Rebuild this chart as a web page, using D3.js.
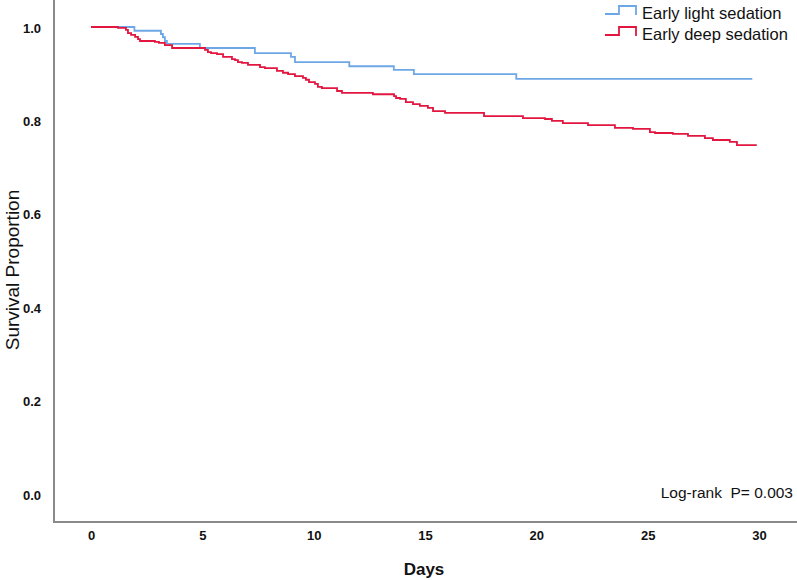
<!DOCTYPE html>
<html>
<head>
<meta charset="utf-8">
<script src="https://cdn.jsdelivr.net/npm/d3@7"></script>
<style>
  html, body { margin: 0; padding: 0; background: #fff; }
  svg { display: block; font-family: Arial, "Liberation Sans", sans-serif; }
</style>
</head>
<body>
<svg id="chart" width="797" height="580"></svg>
<script>
// ---- data ----
const seriesNames = ["Early light sedation", "Early deep sedation"];
const seriesColors = ["#6ea7e6", "#e2163f"];
const xTicks = [0, 5, 10, 15, 20, 25, 30];
const yTicks = [0.0, 0.2, 0.4, 0.6, 0.8, 1.0];

const lightTimes = [0, 1.95, 3.14, 3.23, 3.32, 3.41, 4.89, 7.36, 8.98, 9.16, 11.6, 13.6, 14.5, 19.1, 29.7];
const lightSurv  = [1.0, 0.992, 0.985, 0.978, 0.970, 0.964, 0.955, 0.944, 0.936, 0.925, 0.916, 0.908, 0.899, 0.889, 0.889];

const deepTimes = [0, 1.21, 1.57, 1.66, 1.80, 1.98, 2.11, 2.20, 2.87, 3.05, 3.32, 3.64, 5.12, 5.25, 5.39, 5.66, 5.93,
  6.33, 6.47, 6.60, 6.78, 7.05, 7.59, 7.81, 8.35, 8.62, 8.85, 9.16, 9.52, 9.65, 9.79, 10.06, 10.19, 10.37,
  11.05, 11.27, 12.66, 13.61, 13.70, 13.88, 14.14, 14.46, 14.77, 15.13, 15.36, 15.90, 17.65, 19.40, 20.39,
  20.70, 21.19, 22.32, 23.53, 24.34, 25.10, 25.33, 26.13, 26.81, 27.57, 27.93, 28.69, 29.01, 29.9];
const deepSurv = [1.0, 0.998, 0.994, 0.987, 0.983, 0.979, 0.974, 0.970, 0.968, 0.966, 0.961, 0.955, 0.951, 0.946, 0.944, 0.942, 0.936,
  0.931, 0.929, 0.925, 0.923, 0.919, 0.914, 0.912, 0.906, 0.902, 0.899, 0.895, 0.891, 0.887, 0.882, 0.878, 0.872, 0.869,
  0.863, 0.859, 0.856, 0.852, 0.848, 0.846, 0.839, 0.835, 0.831, 0.827, 0.820, 0.816, 0.809, 0.805, 0.803,
  0.799, 0.794, 0.790, 0.784, 0.782, 0.775, 0.773, 0.771, 0.767, 0.762, 0.758, 0.754, 0.747, 0.747];

const annotation = "Log-rank  P= 0.003";
const xTitle = "Days";
const yTitle = "Survival Proportion";

// ---- drawing ----
const svg = d3.select("#chart");
const x = d3.scaleLinear().domain([0, 30]).range([91, 759]);
const y = d3.scaleLinear().domain([0, 1]).range([494, 27]);

const axisColor = "#8a8a8a";
// frame lines (left + bottom)
svg.append("line").attr("x1", 54).attr("x2", 54).attr("y1", 0).attr("y2", 523)
  .attr("stroke", axisColor).attr("stroke-width", 2);
svg.append("line").attr("x1", 53).attr("x2", 797).attr("y1", 522).attr("y2", 522)
  .attr("stroke", axisColor).attr("stroke-width", 2);

// y axis labels
const yAxis = d3.axisLeft(y).tickValues(yTicks).tickSize(0).tickPadding(0).tickFormat(d3.format(".1f"));
const gy = svg.append("g").attr("transform", "translate(41,1)").call(yAxis);
gy.select(".domain").remove();
gy.selectAll("text").attr("font-size", 13).attr("font-weight", "bold")
  .attr("font-family", "Arial, 'Liberation Sans', sans-serif").attr("fill", "#111");

// x axis labels
const xAxis = d3.axisBottom(x).tickValues(xTicks).tickSize(0).tickPadding(0).tickFormat(d3.format("d"));
const gx = svg.append("g").attr("transform", "translate(0,531)").call(xAxis);
gx.select(".domain").remove();
gx.selectAll("text").attr("font-size", 13).attr("font-weight", "bold")
  .attr("font-family", "Arial, 'Liberation Sans', sans-serif").attr("fill", "#111");

// titles
svg.append("text").attr("x", 424).attr("y", 575).attr("text-anchor", "middle")
  .attr("font-size", 17).attr("font-weight", "bold").attr("fill", "#111").text(xTitle);
svg.append("text").attr("transform", "translate(19,270) rotate(-90)").attr("text-anchor", "middle")
  .attr("font-size", 19).attr("fill", "#111").text(yTitle);

// curves
const line = d3.line().x(d => x(d[0])).y(d => y(d[1])).curve(d3.curveStepAfter);
const series = [
  d3.zip(lightTimes, lightSurv),
  d3.zip(deepTimes, deepSurv)
];
series.forEach((pts, i) => {
  svg.append("path").datum(pts).attr("d", line)
    .attr("fill", "none").attr("stroke", seriesColors[i]).attr("stroke-width", 1.8)
    .attr("stroke-linejoin", "miter");
});

// legend
const legendSym = (g, yBase, color) => {
  const sym = [[605, yBase], [619, yBase], [619, yBase - 8], [636, yBase - 8], [636, yBase + 1]];
  g.append("path").attr("d", d3.line()(sym)).attr("fill", "none")
    .attr("stroke", color).attr("stroke-width", 1.8);
};
const lg = svg.append("g");
seriesNames.forEach((name, i) => {
  const yb = 14 + i * 21;
  legendSym(lg, yb, seriesColors[i]);
  lg.append("text").attr("x", 642).attr("y", yb + 5).attr("font-size", 16.5)
    .attr("fill", "#111").text(name);
});

// annotation
svg.append("text").attr("x", 793).attr("y", 498).attr("text-anchor", "end")
  .attr("font-size", 15.5).attr("fill", "#111")
  .style("white-space", "pre").text(annotation);
</script>
</body>
</html>
